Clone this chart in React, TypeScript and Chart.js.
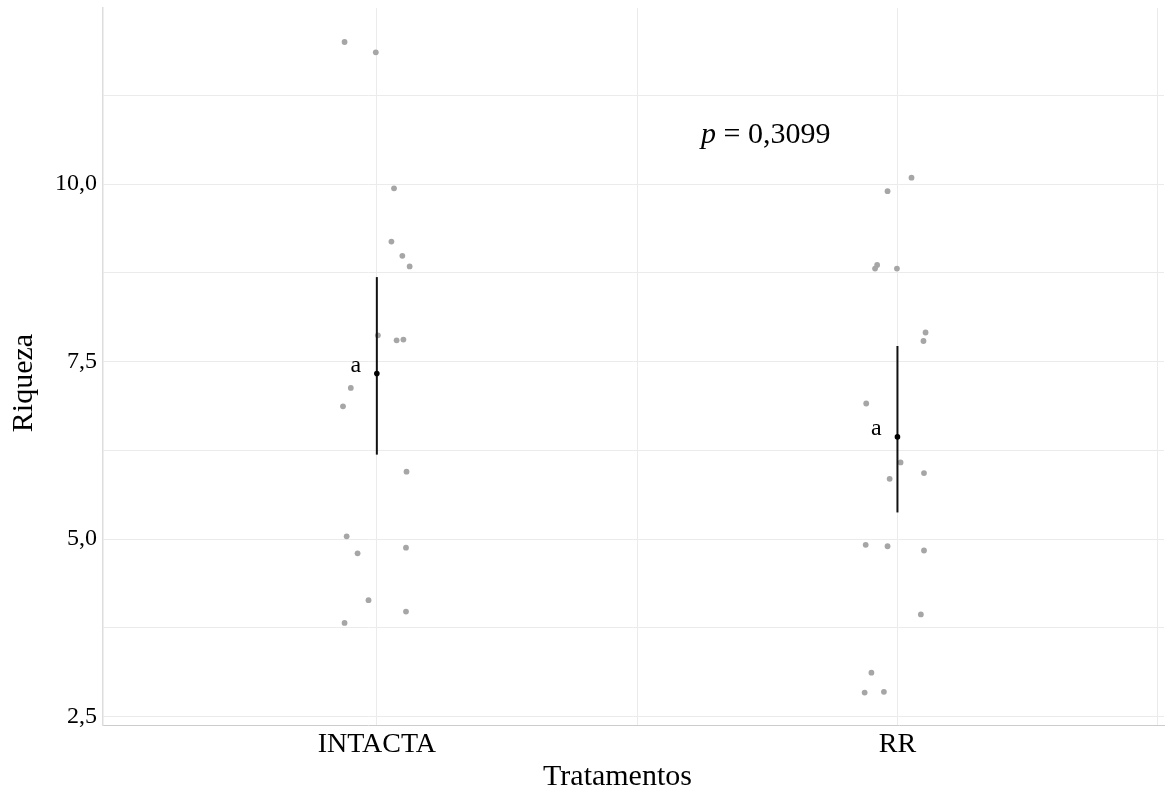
import React, { useEffect, useRef } from "react";
import { Chart, registerables } from "chart.js";

Chart.register(...registerables);

const categories = ["INTACTA", "RR"];
const categoryPositions = [1, 2];

const intactaJitter = [-0.062, -0.002, 0.033, 0.028, 0.049, 0.063, 0.002, 0.038, 0.051, -0.05, -0.065, 0.057, -0.058, -0.037, 0.056, -0.016, 0.056, -0.062];
const intactaValues = [12.0, 11.855, 9.94, 9.19, 8.99, 8.84, 7.87, 7.8, 7.81, 7.13, 6.87, 5.95, 5.04, 4.8, 4.88, 4.14, 3.98, 3.82];

const rrJitter = [0.027, -0.019, -0.039, -0.043, -0.001, 0.054, 0.05, -0.06, 0.006, 0.051, -0.015, -0.061, -0.019, 0.051, 0.045, -0.05, -0.063, -0.026];
const rrValues = [10.09, 9.9, 8.86, 8.81, 8.81, 7.91, 7.79, 6.91, 6.08, 5.93, 5.85, 4.92, 4.9, 4.84, 3.94, 3.12, 2.84, 2.85];

const groupMeans = [7.333, 6.44];
const ciLower = [6.19, 5.376];
const ciUpper = [8.69, 7.72];
const groupLetters = ["a", "a"];

const yTickValues = [2.5, 3.75, 5, 6.25, 7.5, 8.75, 10, 11.25];
const yTickLabels = ["2,5", "", "5,0", "", "7,5", "", "10,0", ""];
const xTickValues = [1, 1.5, 2, 2.5];
const xTickLabels = ["INTACTA", "", "RR", ""];

const pValueLabel = "p";
const pValueText = " = 0,3099";
const pValueX = 1.747;
const pValueY = 10.58;

const xTitle = "Tratamentos";
const yTitle = "Riqueza";

const SERIF = '"Liberation Serif", "Times New Roman", serif';

const annotationPlugin = {
  id: "annotationPlugin",
  afterDatasetsDraw(chart: any) {
    const { ctx, scales } = chart;
    const x = scales.x;
    const y = scales.y;
    ctx.save();
    ctx.fillStyle = "#000";
    ctx.textBaseline = "alphabetic";
    ctx.textAlign = "center";
    ctx.font = `24px ${SERIF}`;
    groupMeans.forEach((m, i) => {
      const px = x.getPixelForValue(categoryPositions[i]) - 21;
      const py = y.getPixelForValue(m) - 1.5;
      ctx.fillText(groupLetters[i], px, py);
    });
    ctx.textAlign = "left";
    ctx.font = `italic 30px ${SERIF}`;
    const w1 = ctx.measureText(pValueLabel).width;
    ctx.font = `30px ${SERIF}`;
    const w2 = ctx.measureText(pValueText).width;
    const cx = x.getPixelForValue(pValueX);
    const cy = y.getPixelForValue(pValueY);
    const start = cx - (w1 + w2) / 2;
    ctx.font = `italic 30px ${SERIF}`;
    ctx.fillText(pValueLabel, start, cy);
    ctx.font = `30px ${SERIF}`;
    ctx.fillText(pValueText, start + w1, cy);
    ctx.restore();
  },
};

const titlePlugin = {
  id: "titlePlugin",
  afterDraw(chart: any) {
    const { ctx } = chart;
    ctx.save();
    ctx.fillStyle = "#000";
    ctx.font = `30px ${SERIF}`;
    ctx.textAlign = "center";
    ctx.textBaseline = "alphabetic";
    ctx.fillText(xTitle, 617.5, 785);
    ctx.translate(31.5, 383);
    ctx.rotate(-Math.PI / 2);
    ctx.fillText(yTitle, 0, 0);
    ctx.restore();
  },
};

const zeroPad = (s: any) => {
  s.paddingTop = 0;
  s.paddingBottom = 0;
  s.paddingLeft = 0;
  s.paddingRight = 0;
};

export default function App() {
  const ref = useRef<HTMLCanvasElement>(null);
  useEffect(() => {
    document.body.style.margin = "0";
    const canvas = ref.current!;
    const pointColor = "#a6a6a6";
    const chart = new Chart(canvas, {
      type: "scatter",
      data: {
        datasets: [
          {
            label: categories[0],
            data: intactaValues.map((v, i) => ({ x: categoryPositions[0] + intactaJitter[i], y: v })),
            backgroundColor: pointColor,
            borderColor: pointColor,
            borderWidth: 0,
            pointRadius: 2.9,
            order: 3,
          },
          {
            label: categories[1],
            data: rrValues.map((v, i) => ({ x: categoryPositions[1] + rrJitter[i], y: v })),
            backgroundColor: pointColor,
            borderColor: pointColor,
            borderWidth: 0,
            pointRadius: 2.9,
            order: 3,
          },
          ...categoryPositions.map((pos, i) => ({
            label: "ci-" + categories[i],
            data: [
              { x: pos, y: ciLower[i] },
              { x: pos, y: ciUpper[i] },
            ],
            showLine: true,
            borderColor: "#111",
            borderWidth: 2,
            pointRadius: 0,
            order: 2,
          })),
          {
            label: "mean",
            data: groupMeans.map((m, i) => ({ x: categoryPositions[i], y: m })),
            backgroundColor: "#000",
            borderColor: "#000",
            borderWidth: 0,
            pointRadius: 2.8,
            order: 1,
          },
        ],
      },
      options: {
        animation: false,
        responsive: false,
        maintainAspectRatio: false,
        layout: { padding: { top: 8, right: 3, left: 0, bottom: 0 } },
        plugins: {
          legend: { display: false },
          tooltip: { enabled: false },
        },
        scales: {
          x: {
            type: "linear",
            min: 0.474,
            max: 2.512,
            afterFit: (s: any) => {
              s.height = 63;
              zeroPad(s);
            },
            afterBuildTicks: (s: any) => {
              s.ticks = xTickValues.map((v) => ({ value: v }));
            },
            grid: { color: "#ebebeb", lineWidth: 1, drawTicks: false },
            border: { display: true, color: "#cccccc", width: 1 },
            ticks: {
              autoSkip: false,
              maxRotation: 0,
              padding: 3,
              color: "#000",
              font: { family: SERIF, size: 28 },
              callback: (_v: any, i: number) => xTickLabels[i],
            },
          },
          y: {
            type: "linear",
            min: 2.383,
            max: 12.479,
            afterFit: (s: any) => {
              s.width = 103;
              zeroPad(s);
            },
            afterBuildTicks: (s: any) => {
              s.ticks = yTickValues.map((v) => ({ value: v }));
            },
            grid: { color: "#ebebeb", lineWidth: 1, drawTicks: false },
            border: { display: true, color: "#dddddd", width: 1.5 },
            ticks: {
              autoSkip: false,
              padding: 6,
              color: "#000",
              font: { family: SERIF, size: 24 },
              callback: (_v: any, i: number) => yTickLabels[i],
            },
          },
        },
      },
      plugins: [annotationPlugin, titlePlugin],
    });
    return () => chart.destroy();
  }, []);
  return (
    <div style={{ width: 1168, height: 788, background: "#fff" }}>
      <canvas ref={ref} width={1168} height={788} style={{ display: "block", width: 1168, height: 788 }} />
    </div>
  );
}
